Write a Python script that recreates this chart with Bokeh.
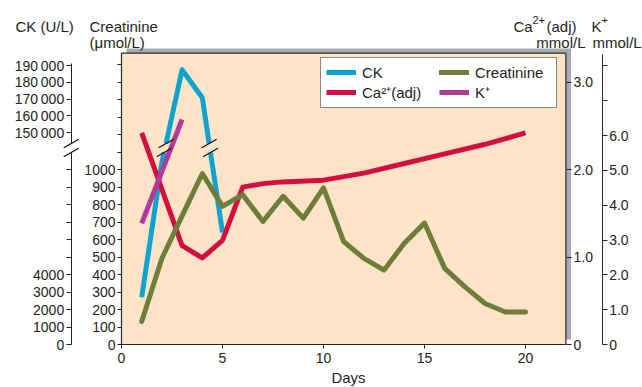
from bokeh.plotting import figure
from bokeh.models import Range1d, LinearAxis, FixedTicker, Label, Legend, LegendItem
from bokeh.embed import file_html
from bokeh.resources import INLINE

# ---------------- data ----------------
ck_days = [1, 2, 3, 4, 5]
ck_values = [2700, 10400, 187500, 170800, 6400]            # U/L

creat_days = list(range(1, 21))
creat_values = [132, 492, 735, 977, 789, 856, 703, 847, 722, 895,
                588, 492, 425, 579, 694, 435, 329, 234, 186, 186]  # umol/L

ca_days = [1, 3, 4, 5, 6, 7, 8, 10, 12, 14, 16, 18, 20]
ca_values = [2.42, 1.13, 0.99, 1.19, 1.80, 1.84, 1.86, 1.88, 1.96, 2.07, 2.18, 2.29, 2.42]  # mmol/L

k_days = [1, 3]
k_values = [3.48, 6.46]                                       # mmol/L

x_ticks = [0, 5, 10, 15, 20]
creat_ticks = list(range(0, 1700, 100))
creat_labels = {t: (str(t) if t <= 1000 else "") for t in creat_ticks}
ck_low_ticks = list(range(0, 11000, 1000))
ck_low_labels = {t: (str(t) if t <= 4000 else "") for t in ck_low_ticks}
ck_high_ticks = [150000, 160000, 170000, 180000, 190000]
ck_high_labels = {t: f"{t // 1000}\u2009000" for t in ck_high_ticks}
ca_ticks = [0, 1, 2, 3]
ca_labels = {0: "0", 1: "1.0", 2: "2.0", 3: "3.0"}
k_ticks = list(range(0, 9))
k_labels = {t: ("0" if t == 0 else (f"{t}.0" if t <= 6 else "")) for t in k_ticks}

# ---------------- geometry / styling ----------------
W, H = 642, 387
OX, OY = 121, 344            # page position of (day 0, value 0)
PX_DAY = 20.2
PX_CR = 0.175                # px per umol/L
PX_CA = 87.43
PX_K = 34.83
CK_LO_PER_CR = 10.0          # lower CK scale: U/L per creatinine unit
CK_HI_BASE = 1211.0          # 150000 U/L in creatinine units
CK_HI_PER_CR = 104.5         # upper CK scale: U/L per creatinine unit


def xr(sx):
    return (sx - OX) / PX_DAY


def yr(sy):
    return (OY - sy) / PX_CR


G0, G1 = yr(152), yr(143)    # axis / line break band

FONT = "Liberation Sans"
TXT = "#231f20"
BLUE, RED, OLIVE, MAG = "#0ea3cc", "#d20f40", "#6e7d3a", "#b13b98"
PEACH, SHADOW = "#fde4c9", "#aaaab2"

y0, y1 = yr(H), yr(0)
p = figure(width=W, height=H, output_backend="svg", toolbar_location=None,
           x_axis_type=None, y_axis_type=None,
           x_range=Range1d(xr(0), xr(W)), y_range=Range1d(y0, y1),
           min_border=0, min_border_left=0, min_border_right=0,
           min_border_top=0, min_border_bottom=0)
p.outline_line_color = None
p.background_fill_color = "white"
p.border_fill_color = "white"
p.extra_y_ranges = {
    "ca": Range1d(y0 * PX_CR / PX_CA, y1 * PX_CR / PX_CA),
    "k": Range1d(y0 * PX_CR / PX_K, y1 * PX_CR / PX_K),
    "ck_lo": Range1d(y0 * CK_LO_PER_CR, y1 * CK_LO_PER_CR),
    "ck_hi": Range1d(150000 + (y0 - CK_HI_BASE) * CK_HI_PER_CR,
                     150000 + (y1 - CK_HI_BASE) * CK_HI_PER_CR),
}

# plot box with drop shadow
p.quad(left=[xr(126)], right=[xr(570.5)], bottom=[yr(339)], top=[yr(48)],
       fill_color=SHADOW, line_color=None)
p.quad(left=[0], right=[xr(565.4)], bottom=[0], top=[yr(52.7)],
       fill_color=PEACH, line_color="#2a2a2a", line_width=1.2)


# ---------------- CK line (broken scale) ----------------
def ck_to_cr(v):
    return v / CK_LO_PER_CR if v < 100000 else CK_HI_BASE + (v - 150000) / CK_HI_PER_CR


pts = [(d, ck_to_cr(v)) for d, v in zip(ck_days, ck_values)]
pieces, breaks = [], []
cur = [pts[0]]
for (xa, ya), (xb, yb) in zip(pts, pts[1:]):
    if min(ya, yb) < G0 and max(ya, yb) > G1:
        pa = (xa + (G0 - ya) / (yb - ya) * (xb - xa), G0)
        pb = (xa + (G1 - ya) / (yb - ya) * (xb - xa), G1)
        first, second = (pa, pb) if yb > ya else (pb, pa)
        cur.append(first)
        pieces.append(cur)
        cur = [second, (xb, yb)]
        breaks += [pa, pb]
    else:
        cur.append((xb, yb))
pieces.append(cur)

LW = 5
r_ck = p.multi_line(xs=[[q[0] for q in pc] for pc in pieces],
                    ys=[[q[1] for q in pc] for pc in pieces],
                    line_color=BLUE, line_width=LW, line_cap="butt", line_join="round")
r_ca = p.line(ca_days, ca_values, y_range_name="ca", line_color=RED, line_width=LW,
              line_cap="butt", line_join="round")
r_cr = p.line(creat_days, creat_values, line_color=OLIVE, line_width=LW,
              line_cap="round", line_join="round")
r_k = p.line(k_days, k_values, y_range_name="k", line_color=MAG, line_width=LW,
             line_cap="butt", line_join="round")

# break marks ("//") on the CK line and on the CK axis
CK_AX = xr(70.7)
SDX, SDY = 7.5 / PX_DAY, 4.2 / PX_CR
marks = breaks + [(CK_AX, G0), (CK_AX, G1)]
p.segment(x0=[m[0] - SDX for m in marks], y0=[m[1] - SDY for m in marks],
          x1=[m[0] + SDX for m in marks], y1=[m[1] + SDY for m in marks],
          line_color="#111111", line_width=1.3)


# ---------------- axes ----------------
def style(ax, tick_out=5, standoff=2, line=True):
    ax.major_label_text_font = FONT
    ax.major_label_text_font_size = "14px"
    ax.major_label_text_color = TXT
    ax.major_tick_out = tick_out
    ax.major_tick_in = 0
    ax.minor_tick_out = 0
    ax.minor_tick_in = 0
    ax.major_tick_line_color = "#222222"
    ax.axis_line_color = "#222222" if line else None
    ax.major_label_standoff = standoff
    return ax


xax = style(LinearAxis(ticker=FixedTicker(ticks=x_ticks), fixed_location=0,
                       bounds=(0, xr(565.4))), tick_out=4, standoff=4)
p.add_layout(xax, "below")

cr_ax = style(LinearAxis(ticker=FixedTicker(ticks=creat_ticks), major_label_overrides=creat_labels,
                         fixed_location=0, bounds=(0, yr(52.7))), tick_out=4, standoff=2)
p.add_layout(cr_ax, "left")

ck_lo_ax = style(LinearAxis(y_range_name="ck_lo", ticker=FixedTicker(ticks=ck_low_ticks),
                            major_label_overrides=ck_low_labels, fixed_location=CK_AX,
                            bounds=(0, G0 * CK_LO_PER_CR)), tick_out=5, standoff=2)
p.add_layout(ck_lo_ax, "left")

ck_hi_ax = style(LinearAxis(y_range_name="ck_hi", ticker=FixedTicker(ticks=ck_high_ticks),
                            major_label_overrides=ck_high_labels, fixed_location=CK_AX,
                            bounds=(150000 + (G1 - CK_HI_BASE) * CK_HI_PER_CR,
                                    150000 + (yr(63.3) - CK_HI_BASE) * CK_HI_PER_CR)),
                 tick_out=5, standoff=2)
p.add_layout(ck_hi_ax, "left")

ca_ax = style(LinearAxis(y_range_name="ca", ticker=FixedTicker(ticks=ca_ticks),
                         major_label_overrides=ca_labels, fixed_location=xr(566),
                         bounds=(0, 3.3)), tick_out=5, standoff=2, line=False)
p.add_layout(ca_ax, "right")

k_ax = style(LinearAxis(y_range_name="k", ticker=FixedTicker(ticks=k_ticks),
                        major_label_overrides=k_labels, fixed_location=xr(601.7),
                        bounds=(0, (OY - 54) / PX_K)), tick_out=5, standoff=2)
p.add_layout(k_ax, "right")


# ---------------- texts ----------------
def label(text, sx, sy, align="left", size="15px"):
    p.add_layout(Label(x=xr(sx), y=yr(sy), text=text, text_font=FONT, text_font_size=size,
                       text_color=TXT, text_align=align, text_baseline="alphabetic"))


label("CK (U/L)", 15, 26)
label("Creatinine", 89, 26)
label("(\u03bcmol/L)", 89, 42)
label("Ca", 513, 26)
label("2+", 532, 19, size="11px")
label("(adj)", 546, 26)
label("mmol/L", 585, 42, "right")
label("K", 591, 26)
label("+", 601, 19, size="11px")
label("mmol/L", 592, 42)
label("Days", 348, 377, "center")

# ---------------- legend ----------------
legend = Legend(items=[LegendItem(label="CK", renderers=[r_ck]),
                       LegendItem(label="Ca\u00b2\u207a(adj)", renderers=[r_ca]),
                       LegendItem(label="Creatinine", renderers=[r_cr]),
                       LegendItem(label="K\u207a", renderers=[r_k])],
                ncols=2, location=(320, H - 108),
                label_text_font=FONT, label_text_font_size="15px", label_text_color=TXT,
                glyph_width=30, glyph_height=16, label_height=18, label_width=76,
                label_standoff=6, padding=5, spacing=1, margin=0,
                border_line_color="#111111", border_line_width=1,
                background_fill_color="white", background_fill_alpha=1.0)
p.add_layout(legend)

open("out.html", "w").write(file_html(p, INLINE))
